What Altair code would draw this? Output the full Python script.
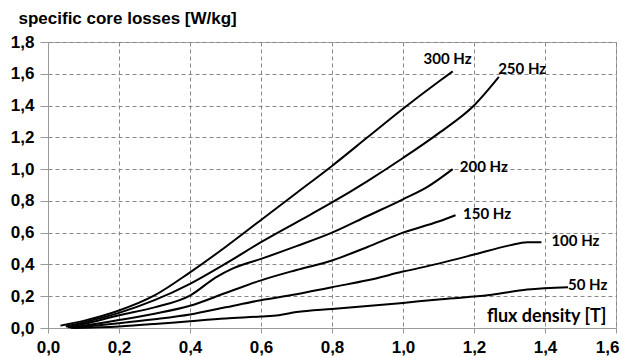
import altair as alt
import pandas as pd

# ---- data ----
x300 = [0.035, 0.1, 0.2, 0.3, 0.4, 0.5, 0.6, 0.7, 0.8, 0.9, 1.0, 1.1, 1.14]
y300 = [0.015, 0.045, 0.11, 0.205, 0.35, 0.51, 0.68, 0.85, 1.02, 1.20, 1.38, 1.55, 1.615]

x250 = [0.05, 0.1, 0.2, 0.3, 0.4, 0.5, 0.6, 0.7, 0.8, 0.9, 1.0, 1.1, 1.2, 1.27]
y250 = [0.01, 0.035, 0.095, 0.175, 0.278, 0.405, 0.54, 0.665, 0.79, 0.925, 1.07, 1.225, 1.40, 1.58]

x200 = [0.055, 0.1, 0.2, 0.3, 0.4, 0.474, 0.521, 0.6, 0.7, 0.8, 0.9, 1.0, 1.07, 1.14]
y200 = [0.005, 0.025, 0.08, 0.13, 0.204, 0.32, 0.375, 0.435, 0.515, 0.60, 0.705, 0.81, 0.89, 1.0]

x150 = [0.06, 0.1, 0.2, 0.3, 0.4, 0.5, 0.6, 0.7, 0.8, 0.9, 1.0, 1.1, 1.148]
y150 = [0.003, 0.015, 0.05, 0.09, 0.14, 0.22, 0.30, 0.365, 0.425, 0.51, 0.60, 0.67, 0.71]

x100 = [0.065, 0.1, 0.2, 0.3, 0.4, 0.5, 0.6, 0.7, 0.8, 0.9, 1.0, 1.1, 1.2, 1.3, 1.35, 1.39]
y100 = [0.0, 0.008, 0.03, 0.055, 0.085, 0.13, 0.175, 0.212, 0.257, 0.30, 0.355, 0.405, 0.462, 0.52, 0.54, 0.54]

x50 = [0.07, 0.2, 0.3, 0.4, 0.5, 0.6, 0.65, 0.7, 0.8, 0.9, 1.0, 1.1, 1.2, 1.25, 1.35, 1.465]
y50 = [0.0, 0.01, 0.025, 0.043, 0.06, 0.072, 0.08, 0.10, 0.12, 0.138, 0.158, 0.18, 0.198, 0.21, 0.242, 0.257]

label_text = ["300 Hz", "250 Hz", "200 Hz", "150 Hz", "100 Hz", "50 Hz"]
label_x = [1.058, 1.268, 1.16, 1.169, 1.418, 1.465]
label_y = [1.69, 1.63, 1.016, 0.718, 0.546, 0.272]

x_ticks = [0.0, 0.2, 0.4, 0.6, 0.8, 1.0, 1.2, 1.4, 1.6]
y_ticks = [0.0, 0.2, 0.4, 0.6, 0.8, 1.0, 1.2, 1.4, 1.6, 1.8]

series = [("300 Hz", x300, y300), ("250 Hz", x250, y250), ("200 Hz", x200, y200),
          ("150 Hz", x150, y150), ("100 Hz", x100, y100), ("50 Hz", x50, y50)]
rows = []
for name, xs, ys in series:
    for i, (a, b) in enumerate(zip(xs, ys)):
        rows.append({"series": name, "B": a, "P": b, "order": i})
df = pd.DataFrame(rows)
labels = pd.DataFrame({"text": label_text, "B": label_x, "P": label_y})

lab_expr = "replace(format(datum.value, '.1f'), '.', ',')"

xscale = alt.Scale(domain=[0, 1.6], nice=False, zero=False)
yscale = alt.Scale(domain=[0, 1.8], nice=False)

common = dict(labelFont="Liberation Sans", labelFontSize=17, labelFontWeight="bold",
              labelColor="black", labelOverlap=False, labelBound=False, labelFlush=False)

xaxis = alt.Axis(values=x_ticks, labelExpr=lab_expr, title="flux density [T]",
                 titleX=558, titleY=-12, titleAlign="right", titleBaseline="middle",
                 titleFont="Lato", titleFontSize=18, titleFontWeight="bold",
                 labelAlign={"condition": {"test": "datum.value >= 1.55", "value": "right"},
                             "value": "center"},
                 labelOffset={"condition": {"test": "datum.value >= 1.55", "value": 3},
                              "value": 0},
                 tickSize=5, labelPadding=6, **common)
yaxis = alt.Axis(values=y_ticks, labelExpr=lab_expr, title="specific core losses [W/kg]",
                 titleAngle=0, titleX=-30, titleY=-24, titleAlign="left",
                 titleBaseline="middle", titleFont="Liberation Sans",
                 titleFontSize=17, titleFontWeight="bold",
                 tickSize=8, labelPadding=6, **common)

lines = alt.Chart(df).mark_line(color="black", strokeWidth=2, interpolate="monotone").encode(
    x=alt.X("B:Q", scale=xscale, axis=xaxis),
    y=alt.Y("P:Q", scale=yscale, axis=yaxis),
    detail="series:N",
    order="order:Q",
)

text = alt.Chart(labels).mark_text(align="left", baseline="middle", font="Lato",
                                   fontSize=15, fontWeight="bold", color="black").encode(
    x=alt.X("B:Q", scale=xscale, axis=xaxis),
    y=alt.Y("P:Q", scale=yscale, axis=yaxis),
    text="text:N",
)

chart = (lines + text).properties(
    width=568, height=286,
    autosize=alt.AutoSizeParams(type="none"),
    padding={"left": 40, "top": 34, "right": 4, "bottom": 28},
).configure_view(stroke="#aaaaaa", strokeWidth=1).configure_axis(
    domainColor="#999999", tickColor="#999999", gridColor="#888888",
    gridDash=[4, 3], gridWidth=1, titleColor="black",
)

chart.save("out.html", embed_options={"renderer": "svg", "actions": False})
